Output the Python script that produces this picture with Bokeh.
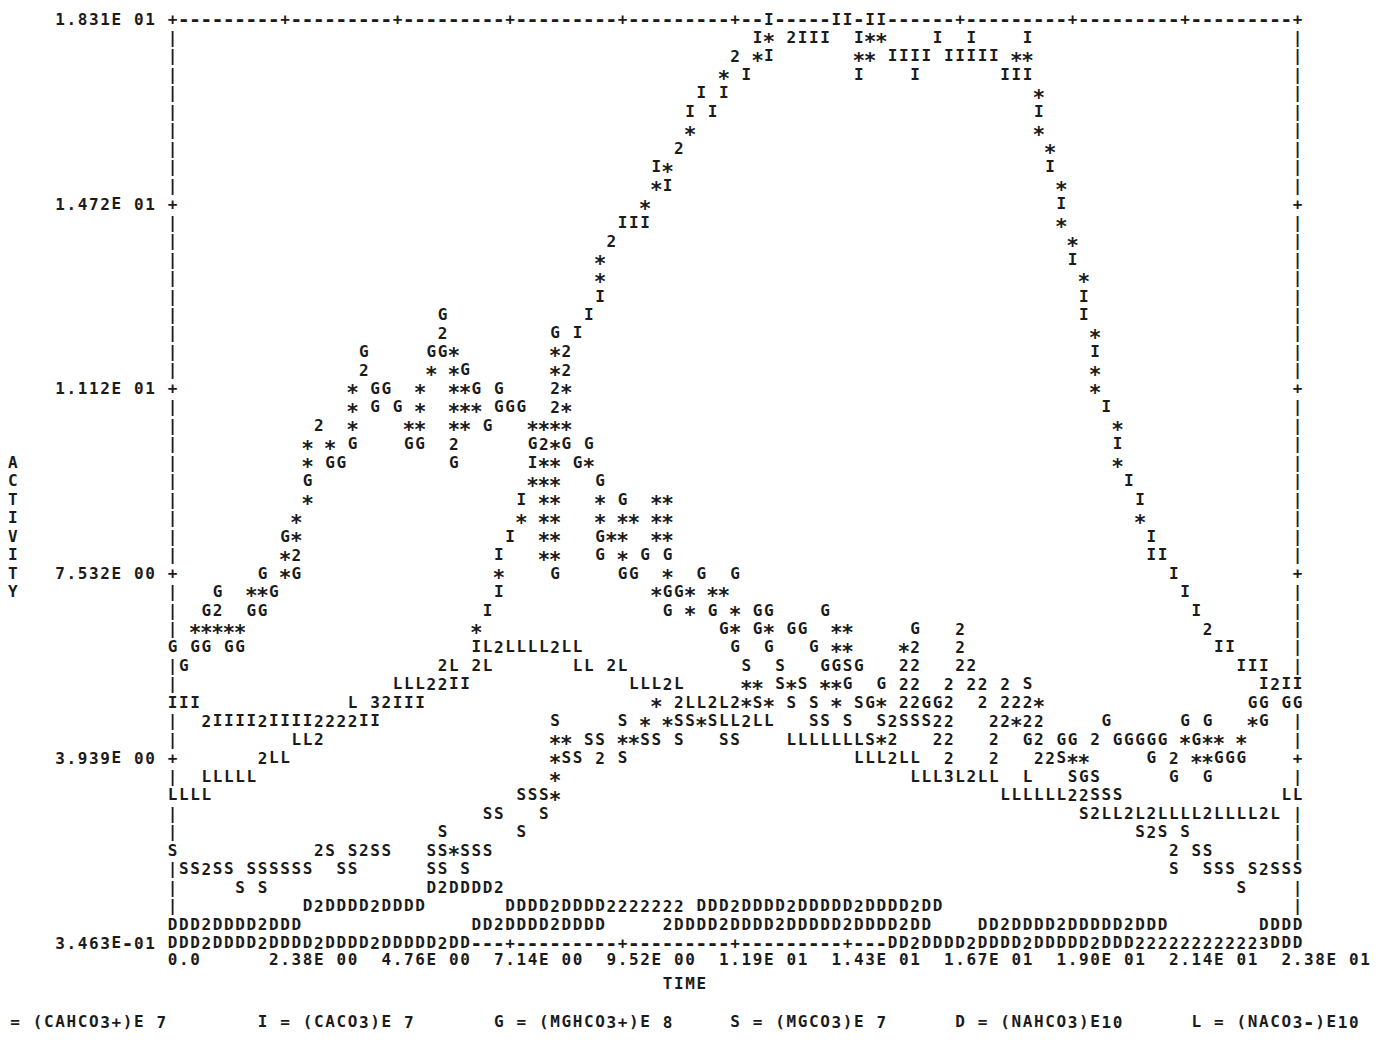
from bokeh.plotting import figure
from bokeh.models import Range1d, ColumnDataSource
from bokeh.core.properties import value
from bokeh.embed import file_html
from bokeh.resources import INLINE

# ---- axis scales of the line-printer plot ----
TIME_MAX = 23.8          # right edge of frame
ACT_TOP = 18.31          # top of frame
ACT_BOTTOM = 0.3463      # bottom of frame
N_COLS = 100             # print positions across the frame
N_ROWS = 50              # print lines down the frame
DT = TIME_MAX / N_COLS
DA = (ACT_TOP - ACT_BOTTOM) / N_ROWS

Y_TICK_LABELS = ["1.831E 01", "1.472E 01", "1.112E 01", "7.532E 00", "3.939E 00", "3.463E-01"]
X_TICK_LABELS = ["0.0", "2.38E 00", "4.76E 00", "7.14E 00", "9.52E 00", "1.19E 01",
                 "1.43E 01", "1.67E 01", "1.90E 01", "2.14E 01", "2.38E 01"]
X_TICK_LABEL_COLS = [0, 9, 19, 29, 39, 49, 59, 69, 79, 89, 99]
LEGEND_SYMBOLS = ["*", "I", "G", "S", "D", "L"]
LEGEND_SPECIES = ["(CAHCO3+)E 7", "(CACO3)E 7", "(MGHCO3+)E 8", "(MGCO3)E 7", "(NAHCO3)E10", "(NACO3-)E10"]
LEGEND_COLS = [-16, 8, 29, 50, 70, 91]

# ---- plotted symbols: (print line, [(print position, characters), ...]) ----
# '2' / '3' mark two / three species landing on the same print position
ROWS_TOP = [
    (0, [(53, "I"), (59, "II"), (62, "II")]),
    (1, [(52, "I*"), (55, "2III"), (61, "I**"), (68, "I"), (71, "I"), (76, "I")]),
    (2, [(50, "2"), (52, "*I"), (61, "**"), (64, "IIII"), (69, "IIIII"), (75, "**")]),
    (3, [(49, "*"), (51, "I"), (61, "I"), (66, "I"), (74, "III")]),
    (4, [(47, "I"), (49, "I"), (77, "*")]),
    (5, [(46, "I"), (48, "I"), (77, "I")]),
    (6, [(46, "*"), (77, "*")]),
    (7, [(45, "2"), (78, "*")]),
    (8, [(43, "I*"), (78, "I")]),
    (9, [(43, "*I"), (79, "*")]),
]
ROWS_UPPER = [
    (10, [(42, "*"), (79, "I")]),
    (11, [(40, "III"), (79, "*")]),
    (12, [(39, "2"), (80, "*")]),
    (13, [(38, "*"), (80, "I")]),
    (14, [(38, "*"), (81, "*")]),
    (15, [(38, "I"), (81, "I")]),
    (16, [(24, "G"), (37, "I"), (81, "I")]),
    (17, [(24, "2"), (34, "G"), (36, "I"), (82, "*")]),
    (18, [(17, "G"), (23, "GG*"), (34, "*2"), (82, "I")]),
    (19, [(17, "2"), (23, "*"), (25, "*G"), (34, "*2"), (82, "*")]),
]
ROWS_MIDDLE = [
    (20, [(16, "*"), (18, "GG"), (22, "*"), (25, "**G"), (29, "G"), (34, "2*"), (82, "*")]),
    (21, [(16, "*"), (18, "G"), (20, "G"), (22, "*"), (25, "***"), (29, "GGG"), (34, "2*"), (83, "I")]),
    (22, [(13, "2"), (16, "*"), (21, "**"), (25, "**"), (28, "G"), (32, "****"), (84, "*")]),
    (23, [(12, "*"), (14, "*"), (16, "G"), (21, "GG"), (25, "2"), (32, "G2*G"), (37, "G"), (84, "I")]),
    (24, [(12, "*"), (14, "GG"), (25, "G"), (32, "I**"), (36, "G*"), (84, "*")]),
    (25, [(12, "G"), (32, "***"), (38, "G"), (85, "I")]),
    (26, [(12, "*"), (31, "I"), (33, "**"), (38, "*"), (40, "G"), (43, "**"), (86, "I")]),
    (27, [(11, "*"), (31, "*"), (33, "**"), (38, "*"), (40, "**"), (43, "**"), (86, "*")]),
    (28, [(10, "G*"), (30, "I"), (33, "**"), (38, "G**"), (43, "**"), (87, "I")]),
    (29, [(10, "*2"), (29, "I"), (33, "**"), (38, "G"), (40, "*"), (42, "G"), (44, "G"), (87, "II")]),
]
ROWS_LOWER = [
    (30, [(8, "G"), (10, "*G"), (29, "*"), (34, "G"), (40, "GG"), (44, "*"), (47, "G"), (50, "G"), (89, "I")]),
    (31, [(4, "G"), (7, "**G"), (29, "I"), (43, "*GG*"), (48, "**"), (90, "I")]),
    (32, [(3, "G2"), (7, "GG"), (28, "I"), (44, "G"), (46, "*"), (48, "G"), (50, "*"), (52, "GG"),
          (58, "G"), (91, "I")]),
    (33, [(2, "*****"), (27, "*"), (49, "G*"), (52, "G*"), (55, "GG"), (59, "**"), (66, "G"), (70, "2"),
          (92, "2")]),
    (34, [(0, "G"), (2, "GG"), (5, "GG"), (27, "IL2LLLL2LL"), (50, "G"), (53, "G"), (57, "G"), (59, "**"),
          (65, "*2"), (70, "2"), (93, "II")]),
    (35, [(1, "G"), (24, "2L"), (27, "2L"), (36, "LL"), (39, "2L"), (51, "S"), (54, "S"), (58, "GGSG"),
          (65, "22"), (70, "22"), (95, "III")]),
    (36, [(20, "LLL22II"), (41, "LLL2L"), (51, "**"), (54, "S*S"), (58, "**G"), (63, "G"), (65, "22"),
          (69, "2"), (71, "22"), (74, "2"), (76, "S"), (97, "I2II")]),
    (37, [(0, "III"), (16, "L"), (18, "32III"), (43, "*"), (45, "2LL2L2*S*"), (55, "S"), (57, "S"), (59, "*"),
          (61, "SG*"), (65, "22GG2"), (72, "2"), (74, "222*"), (96, "GG"), (99, "GG")]),
    (38, [(3, "2IIII2IIII2222II"), (34, "S"), (40, "S"), (42, "*"), (44, "*SS*"), (48, "SLL2LL"), (57, "SS"),
          (60, "S"), (63, "S2SSS22"), (73, "22*22"), (83, "G"), (90, "G"), (92, "G"), (96, "*G")]),
    (39, [(11, "LL2"), (34, "**"), (37, "SS"), (40, "**SS"), (45, "S"), (49, "SS"), (55, "LLLLLLLS*2"),
          (68, "22"), (73, "2"), (76, "G2"), (79, "GG"), (82, "2"), (84, "GGGGG"), (90, "*G**"), (95, "*")]),
]
ROWS_BOTTOM = [
    (40, [(8, "2LL"), (34, "*SS"), (38, "2"), (40, "S"), (61, "LLL2LL"), (69, "2"), (73, "2"), (77, "22S**"),
          (87, "G"), (89, "2"), (91, "**GGG")]),
    (41, [(3, "LLLLL"), (34, "*"), (66, "LLL3L2LL"), (76, "L"), (80, "SGS"), (89, "G"), (92, "G")]),
    (42, [(0, "LLLL"), (31, "SSS*"), (74, "LLLLLL22SSS"), (99, "LL")]),
    (43, [(28, "SS"), (33, "S"), (81, "S2LL2L2LLLL2LLLL2L")]),
    (44, [(24, "S"), (31, "S"), (86, "S2S"), (90, "S")]),
    (45, [(0, "S"), (13, "2S"), (16, "S2SS"), (23, "SS*SSS"), (89, "2"), (91, "SS")]),
    (46, [(1, "SS2SS"), (7, "SSSSSS"), (15, "SS"), (23, "SS"), (26, "S"), (89, "S"), (92, "SSS"), (96, "S2SSS")]),
    (47, [(6, "S"), (8, "S"), (23, "D2DDDD2"), (95, "S")]),
    (48, [(12, "D2DDDD2DDDD"), (30, "DDDD2DDDD2222222"), (47, "DDD2DDDD2DDDDD2DDDD2DD")]),
    (49, [(0, "DDD2DDDD2DDD"), (27, "DD2DDDD2DDDD"), (44, "2DDDD2DDDD2DDDDD2DDDD2DD"),
          (72, "DD2DDDD2DDDDD2DDD"), (97, "DDDD")]),
    (50, [(0, "DDD2DDDD2DDDD2DDDD2DDDDD2DD"), (64, "DD2DDDD2DDDD2DDDDD2DDD222222222223DDD")]),
]

# ---- where the print sits on the page (pixels) ----
W, H = 1380, 1061
LEFT_PX, TOP_PX = 172.0, 18.5
PITCH_X, PITCH_Y = 11.25, 18.47
INK = "#1b1b1b"
FONT = "DejaVu Sans Mono"
CHAR_PX = 16          # letters, digits and frame characters
STAR_PX = 21          # the printer's asterisk is a full-height star
STAR_DROP_PX = 4.9    # lowers the font's raised asterisk onto the print line
DASH_PX = 20          # the printer's frame dash is a little longer than the font's hyphen

# data ranges that put print position 0 / line 0 at the frame corner
x_lo = (-LEFT_PX / PITCH_X) * DT
x_hi = ((W - LEFT_PX) / PITCH_X) * DT
y_hi = ACT_TOP + (TOP_PX / PITCH_Y) * DA
y_lo = ACT_TOP - ((H - TOP_PX) / PITCH_Y) * DA

p = figure(width=W, height=H, x_range=Range1d(x_lo, x_hi), y_range=Range1d(y_lo, y_hi),
           output_backend="svg", toolbar_location=None, x_axis_location=None, y_axis_location=None,
           min_border=0, background_fill_color="white", border_fill_color="white")
p.outline_line_color = None
p.xgrid.visible = False
p.ygrid.visible = False

# frame: '+' every ten positions / lines, '-' and '|' in between
cells = {}
for c in range(N_COLS + 1):
    ch = "+" if c % 10 == 0 else "-"
    cells[(0, c)] = ch
    cells[(N_ROWS, c)] = ch
for r in range(1, N_ROWS):
    ch = "+" if r % 10 == 0 else "|"
    cells[(r, 0)] = ch
    cells[(r, N_COLS)] = ch

# plotted symbols overwrite the frame where they fall on it
for band in (ROWS_TOP, ROWS_UPPER, ROWS_MIDDLE, ROWS_LOWER, ROWS_BOTTOM):
    for r, segments in band:
        for c0, chars in segments:
            for i, ch in enumerate(chars):
                if ch != " ":
                    cells[(r, c0 + i)] = ch

glyphs = {"t": [], "a": [], "ch": []}
stars = {"t": [], "a": [], "ch": []}
dashes = {"t": [], "a": [], "ch": []}
star_drop = STAR_DROP_PX * DA / PITCH_Y


def put_char(ch, col, row):
    t = col * DT
    a = ACT_TOP - row * DA
    if ch == "*":
        target, a = stars, a - star_drop
    elif ch == "-":
        target = dashes
    else:
        target = glyphs
    target["t"].append(t)
    target["a"].append(a)
    target["ch"].append(ch)


for (r, c), ch in cells.items():
    put_char(ch, c, r)


def put_string(s, col, row):
    for i, ch in enumerate(s):
        if ch != " ":
            put_char(ch, col + i, row)


# y tick labels, then a blank, then the frame
for k, lab in enumerate(Y_TICK_LABELS):
    put_string(lab, -1 - len(lab), 10 * k)

# x tick labels
for lab, c in zip(X_TICK_LABELS, X_TICK_LABEL_COLS):
    put_string(lab, c, 50.9)

# axis titles
put_string("TIME", 44, 52.2)
for i, ch in enumerate("ACTIVITY"):
    put_string(ch, -14.2, 24 + i)

# legend line
for sym, sp, c in zip(LEGEND_SYMBOLS, LEGEND_SPECIES, LEGEND_COLS):
    put_string(sym + " = " + sp, c, 54.3)

p.text(x="t", y="a", text="ch", source=ColumnDataSource(glyphs), text_font=value(FONT),
       text_font_size=f"{CHAR_PX}px", text_font_style="bold", text_align="center",
       text_baseline="middle", text_color=INK)
p.text(x="t", y="a", text="ch", source=ColumnDataSource(stars), text_font=value(FONT),
       text_font_size=f"{STAR_PX}px", text_font_style="bold", text_align="center",
       text_baseline="middle", text_color=INK)
p.text(x="t", y="a", text="ch", source=ColumnDataSource(dashes), text_font=value(FONT),
       text_font_size=f"{DASH_PX}px", text_font_style="bold", text_align="center",
       text_baseline="middle", text_color=INK)

open("out.html", "w").write(file_html(p, INLINE))
